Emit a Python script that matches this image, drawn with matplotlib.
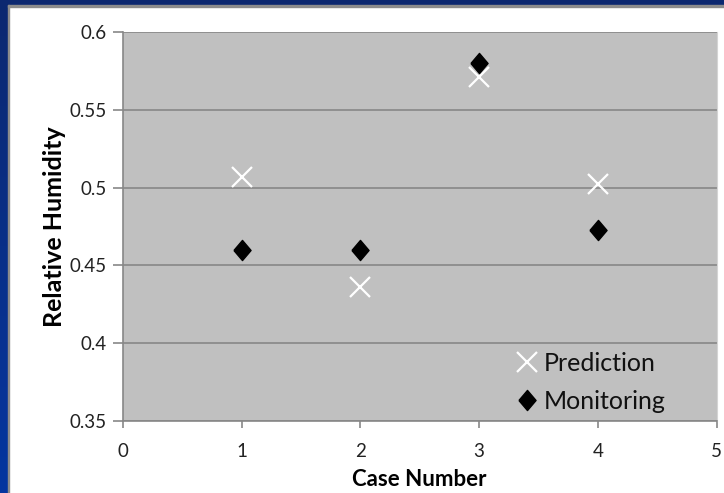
import matplotlib
matplotlib.use("Agg")
import matplotlib.pyplot as plt
import numpy as np
from matplotlib.patches import Rectangle
from matplotlib.colors import LinearSegmentedColormap

# Data
cases = [1, 2, 3, 4]
prediction = [0.507, 0.436, 0.571, 0.502]
monitoring = [0.460, 0.460, 0.580, 0.473]
series_names = ["Prediction", "Monitoring"]
x_ticks = [0, 1, 2, 3, 4, 5]
y_ticks = [0.35, 0.4, 0.45, 0.5, 0.55, 0.6]
y_tick_labels = ["0.35", "0.4", "0.45", "0.5", "0.55", "0.6"]

W, H = 724, 493
fig = plt.figure(figsize=(W / 100, H / 100), dpi=100)
fig.patch.set_facecolor("white")

# Blue frame (top band and left band with gradient)
bg = fig.add_axes([0, 0, 1, 1], zorder=-10)
bg.set_xlim(0, W)
bg.set_ylim(H, 0)
bg.axis("off")
grad = np.linspace(0, 1, 256).reshape(-1, 1)
cmap = LinearSegmentedColormap.from_list("b", ["#0c2870", "#0536a0"])
bg.imshow(grad, cmap=cmap, extent=[0, 8, H, 0], aspect="auto", zorder=1)
bg.add_patch(Rectangle((0, 0), W, 5, color="#0c2870", zorder=2))
bg.add_patch(Rectangle((8, 5), W - 8, 1.5, color="#8c8c8c", zorder=3))
bg.add_patch(Rectangle((8, 5), 1.2, H - 5, color="#8c8c8c", zorder=3))

left_px, right_px, top_px, bottom_px = 123, 716.5, 32, 421
ax = fig.add_axes([left_px / W, (H - bottom_px) / H,
                   (right_px - left_px) / W, (bottom_px - top_px) / H])
ax.set_facecolor("#c0c0c0")

diamond = [(-0.85, 0), (0, 1), (0.85, 0), (0, -1), (-0.85, 0)]

ax.plot(cases, prediction, linestyle="none", marker="x", markersize=14,
        markeredgewidth=1.6, color="white", label=series_names[0], zorder=3)
ax.plot(cases, monitoring, linestyle="none", marker=diamond, markersize=14.5,
        color="black", label=series_names[1], zorder=4)

ax.set_xlim(0, 5)
ax.set_ylim(0.35, 0.6)
ax.set_xticks(x_ticks)
ax.set_yticks(y_ticks)
ax.set_yticklabels(y_tick_labels)
ax.yaxis.grid(True, color="#878787", linewidth=1.2)
ax.set_axisbelow(True)

ax.spines["top"].set_visible(False)
ax.spines["right"].set_color("#d4d4d4")
ax.spines["left"].set_color("#878787")
ax.spines["bottom"].set_color("#878787")
ax.spines["left"].set_linewidth(1.2)
ax.spines["bottom"].set_linewidth(1.2)

ax.tick_params(axis="both", direction="out", color="#878787", width=1.2,
               labelsize=13.5, labelcolor="#222222")
ax.tick_params(axis="y", length=7, pad=5)
ax.tick_params(axis="x", length=5, pad=11)
for lbl in ax.get_xticklabels() + ax.get_yticklabels():
    lbl.set_fontfamily("Lato")

ax.set_xlabel("Case Number", fontsize=16, fontweight="bold", fontfamily="Lato",
              labelpad=6)
ax.set_ylabel("Relative Humidity", fontsize=18, fontweight="bold",
              fontfamily="Lato", labelpad=2)

leg = ax.legend(loc="lower right", bbox_to_anchor=((681 - left_px) / (right_px - left_px), -0.018),
                frameon=False, handlelength=1.0, handletextpad=0.2,
                labelspacing=0.6, borderaxespad=0.2,
                prop={"family": "Lato", "size": 18})
for t in leg.get_texts():
    t.set_color("#111111")

fig.savefig("out.png", dpi=100, facecolor=fig.get_facecolor())
